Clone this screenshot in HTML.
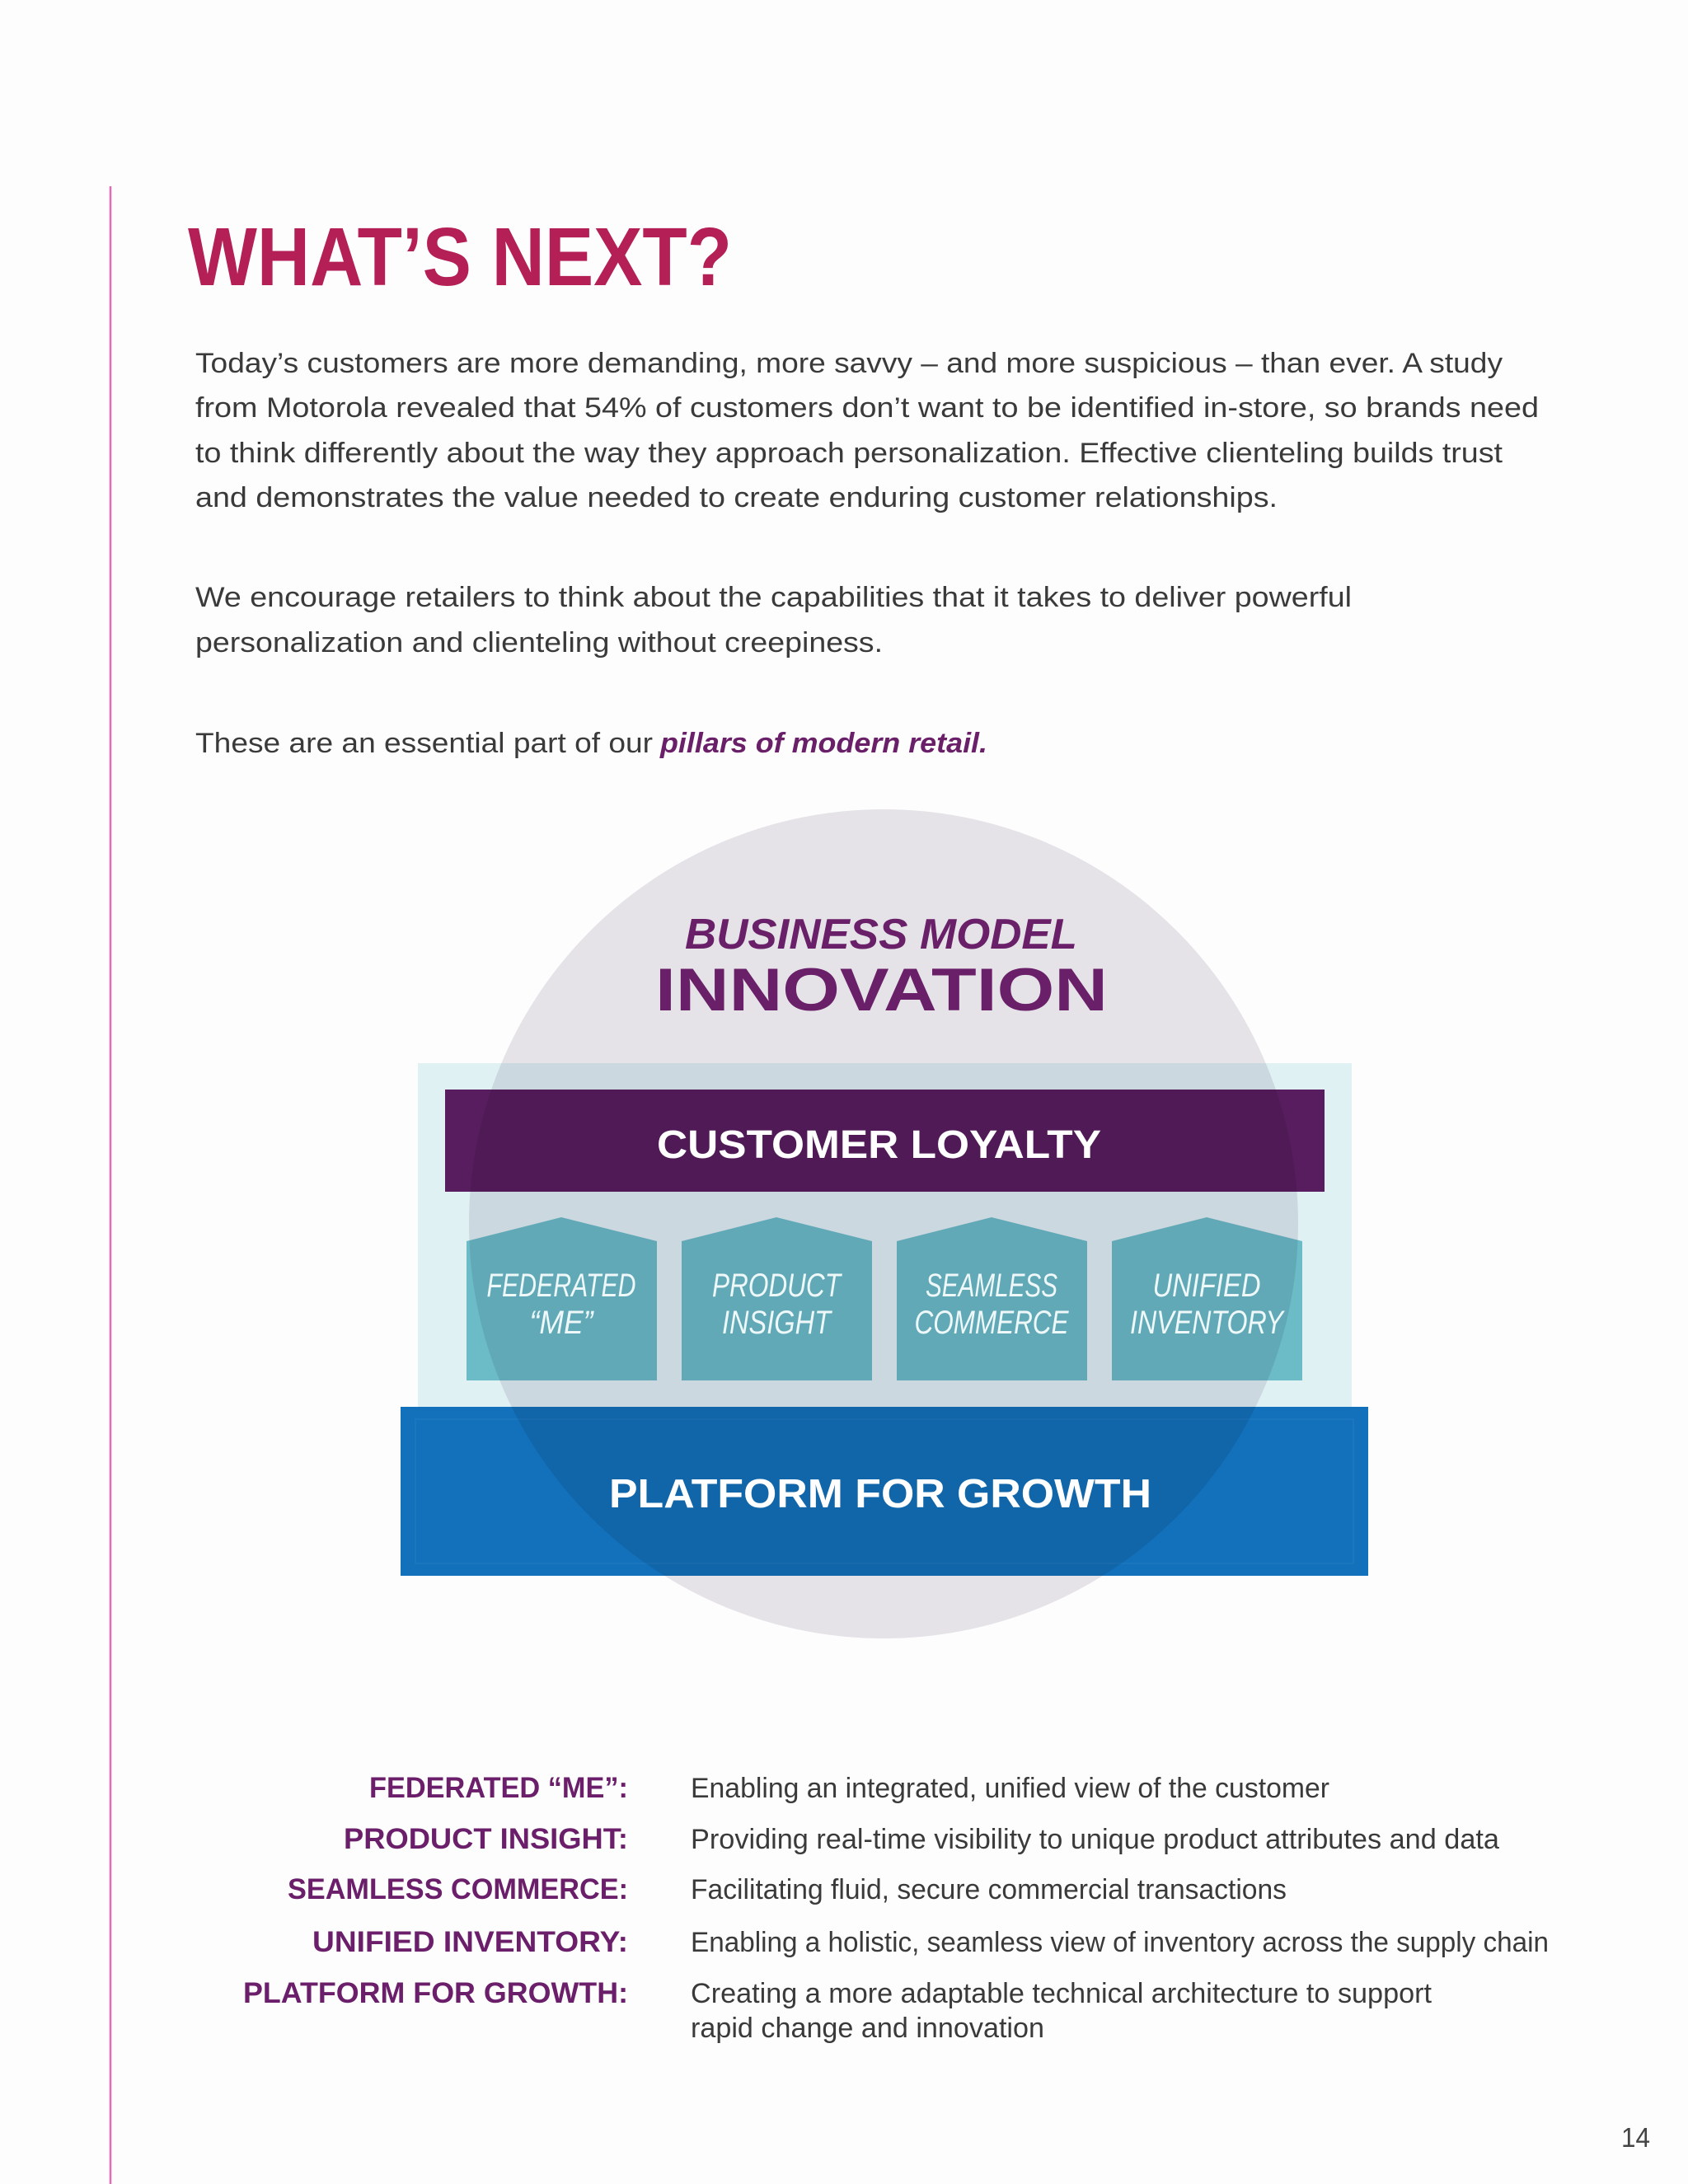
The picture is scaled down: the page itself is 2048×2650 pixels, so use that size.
<!DOCTYPE html>
<html><head><meta charset="utf-8"><style>html,body{margin:0;padding:0;background:#fdfdfe}svg{display:block}</style></head>
<body>
<svg width="2048" height="2650" viewBox="0 0 2048 2650" xmlns="http://www.w3.org/2000/svg" font-family="'Liberation Sans', sans-serif">
<rect width="2048" height="2650" fill="#fdfdfe"/>
<line x1="134" y1="226" x2="134" y2="2650" stroke="#e46bb4" stroke-width="2.5"/>
<text x="228" y="346" font-size="100" font-weight="bold" fill="#b41f55" textLength="660" lengthAdjust="spacingAndGlyphs">WHAT’S NEXT?</text>
<g font-size="34" fill="#3a3a3a">
<text x="237" y="452" textLength="1586" lengthAdjust="spacingAndGlyphs">Today’s customers are more demanding, more savvy – and more suspicious – than ever. A study</text>
<text x="237" y="506" textLength="1630" lengthAdjust="spacingAndGlyphs">from Motorola revealed that 54% of customers don’t want to be identified in-store, so brands need</text>
<text x="237" y="561" textLength="1586" lengthAdjust="spacingAndGlyphs">to think differently about the way they approach personalization. Effective clienteling builds trust</text>
<text x="237" y="615" textLength="1313" lengthAdjust="spacingAndGlyphs">and demonstrates the value needed to create enduring customer relationships.</text>
<text x="237" y="736" textLength="1403" lengthAdjust="spacingAndGlyphs">We encourage retailers to think about the capabilities that it takes to deliver powerful</text>
<text x="237" y="791" textLength="834" lengthAdjust="spacingAndGlyphs">personalization and clienteling without creepiness.</text>
<text x="237" y="913" textLength="555" lengthAdjust="spacingAndGlyphs">These are an essential part of our</text>
</g>
<text x="801" y="913" font-size="34" font-weight="bold" font-style="italic" fill="#6a2069" textLength="397" lengthAdjust="spacingAndGlyphs">pillars of modern retail.</text>

<rect x="507" y="1290" width="1133" height="430" fill="#e0f1f4"/>
<rect x="540" y="1322" width="1067" height="124" fill="#571d5e"/>
<g fill="#6cbcc8">
<polygon points="566,1506 681,1477 797,1506 797,1675 566,1675"/>
<polygon points="827,1506 942,1477 1058,1506 1058,1675 827,1675"/>
<polygon points="1088,1506 1203,1477 1319,1506 1319,1675 1088,1675"/>
<polygon points="1349,1506 1464,1477 1580,1506 1580,1675 1349,1675"/>
</g>
<rect x="486" y="1707" width="1174" height="205" fill="#1271ba"/>
<rect x="504" y="1722" width="1138" height="175" fill="none" stroke="#1a76bd" stroke-width="2"/>
<circle cx="1072" cy="1485" r="503" fill="#e7e5e9" style="mix-blend-mode:multiply"/>

<text x="831" y="1151" font-size="52" font-style="italic" font-weight="bold" fill="#6a2069" textLength="476" lengthAdjust="spacingAndGlyphs">BUSINESS MODEL</text>
<text x="795" y="1226" font-size="73" font-weight="bold" fill="#6a2069" textLength="549" lengthAdjust="spacingAndGlyphs">INNOVATION</text>
<text x="797" y="1405" font-size="48" font-weight="bold" fill="#fff" textLength="539" lengthAdjust="spacingAndGlyphs">CUSTOMER LOYALTY</text>
<g font-size="40" font-style="italic" fill="#eef8f9" text-anchor="middle">
<text x="681" y="1573" textLength="181" lengthAdjust="spacingAndGlyphs">FEDERATED</text>
<text x="681" y="1618" textLength="77" lengthAdjust="spacingAndGlyphs">“ME”</text>
<text x="942" y="1573" textLength="156" lengthAdjust="spacingAndGlyphs">PRODUCT</text>
<text x="942" y="1618" textLength="132" lengthAdjust="spacingAndGlyphs">INSIGHT</text>
<text x="1203" y="1573" textLength="160" lengthAdjust="spacingAndGlyphs">SEAMLESS</text>
<text x="1203" y="1618" textLength="187" lengthAdjust="spacingAndGlyphs">COMMERCE</text>
<text x="1464" y="1573" textLength="131" lengthAdjust="spacingAndGlyphs">UNIFIED</text>
<text x="1464" y="1618" textLength="186" lengthAdjust="spacingAndGlyphs">INVENTORY</text>
</g>
<text x="739" y="1829" font-size="49" font-weight="bold" fill="#fff" textLength="658" lengthAdjust="spacingAndGlyphs">PLATFORM FOR GROWTH</text>

<g font-size="35" font-weight="bold" fill="#6b1f6a">
<text x="448" y="2181" textLength="314" lengthAdjust="spacingAndGlyphs">FEDERATED “ME”:</text>
<text x="417" y="2243" textLength="345" lengthAdjust="spacingAndGlyphs">PRODUCT INSIGHT:</text>
<text x="349" y="2304" textLength="413" lengthAdjust="spacingAndGlyphs">SEAMLESS COMMERCE:</text>
<text x="379" y="2368" textLength="383" lengthAdjust="spacingAndGlyphs">UNIFIED INVENTORY:</text>
<text x="295" y="2430" textLength="467" lengthAdjust="spacingAndGlyphs">PLATFORM FOR GROWTH:</text>
</g>
<g font-size="34" fill="#3a3a3a">
<text x="838" y="2181" textLength="775" lengthAdjust="spacingAndGlyphs">Enabling an integrated, unified view of the customer</text>
<text x="838" y="2243" textLength="981" lengthAdjust="spacingAndGlyphs">Providing real-time visibility to unique product attributes and data</text>
<text x="838" y="2304" textLength="723" lengthAdjust="spacingAndGlyphs">Facilitating fluid, secure commercial transactions</text>
<text x="838" y="2368" textLength="1041" lengthAdjust="spacingAndGlyphs">Enabling a holistic, seamless view of inventory across the supply chain</text>
<text x="838" y="2430" textLength="899" lengthAdjust="spacingAndGlyphs">Creating a more adaptable technical architecture to support</text>
<text x="838" y="2472" textLength="429" lengthAdjust="spacingAndGlyphs">rapid change and innovation</text>
</g>
<text x="1967" y="2605" font-size="33" fill="#444" textLength="35" lengthAdjust="spacingAndGlyphs">14</text>
</svg>
</body></html>
